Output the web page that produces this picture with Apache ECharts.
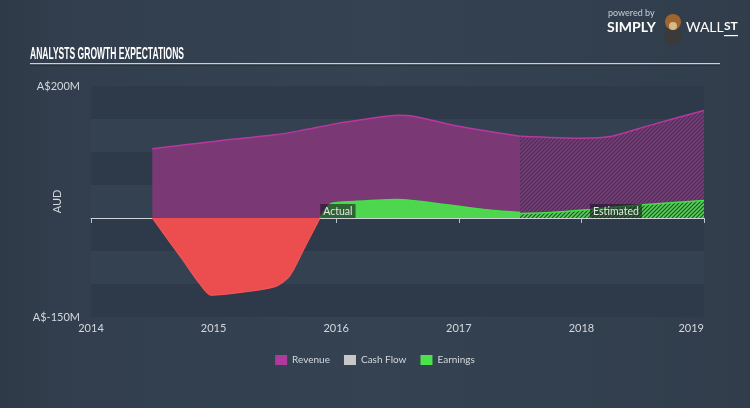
<!DOCTYPE html>
<html><head><meta charset="utf-8">
<script src="https://cdn.jsdelivr.net/npm/echarts@6/dist/echarts.min.js"></script>
<style>html,body{margin:0;padding:0;background:#323e4d}#c{width:750px;height:408px}</style>
</head><body><div id="c"></div>
<script>
// ---- data (years as decimals, values in A$ millions) ----
const xTicks = [2014, 2015, 2016, 2017, 2018, 2019];
const yTickLabels = { '200': 'A$200M', '-150': 'A$-150M' };
const legendNames = ['Revenue', 'Cash Flow', 'Earnings'];
const revenueActual = [[2014.5,105],[2015.0,116],[2015.5,126],[2015.7,132],[2016.0,143],[2016.25,150],[2016.5,155.5],[2016.65,153.5],[2017.0,139],[2017.5,124]];
const revenueEstimated = [[2017.5,124],[2018.0,121],[2018.25,124],[2018.55,140],[2019.0,163]];
const earningsNegative = [[2014.5,0],[2014.75,-64],[2014.88,-98],[2014.98,-117],[2015.25,-112],[2015.5,-104],[2015.62,-88],[2015.75,-42],[2015.868,0]];
const earningsActual = [[2015.868,0],[2015.96,22],[2016.15,25],[2016.5,28],[2016.9,20],[2017.2,13],[2017.5,8.3]];
const earningsEstimated = [[2017.5,7],[2017.75,8.5],[2018.07,13],[2018.5,20],[2019.0,26.5]];
const cashFlow = [];
const marks = [{ name: 'Actual', at: [2015.87, 0] }, { name: 'Estimated', at: [2018.07, 0] }];

function hatch(fg, bg, w) {
  const c = document.createElement('canvas');
  c.width = 4; c.height = 4;
  const ctx = c.getContext('2d');
  ctx.fillStyle = bg; ctx.fillRect(0, 0, 4, 4);
  ctx.strokeStyle = fg; ctx.lineWidth = w;
  ctx.beginPath();
  ctx.moveTo(-1, 5); ctx.lineTo(5, -1);
  ctx.moveTo(-1, 1); ctx.lineTo(1, -1);
  ctx.moveTo(3, 5); ctx.lineTo(5, 3);
  ctx.stroke();
  return { image: c, repeat: 'repeat' };
}

const FONT = 'Lato, "Noto Sans", sans-serif';
const labelColor = '#d3d8de';
const TITLE_FONT = 'bold 17px "Liberation Sans", Arial, sans-serif';

// measure title to make it condensed
const mc = document.createElement('canvas').getContext('2d');
mc.font = TITLE_FONT;
const titleW = mc.measureText('ANALYSTS GROWTH EXPECTATIONS').width;
const titleScale = 154 / titleW;

const chart = echarts.init(document.getElementById('c'));
const lineBase = { type: 'line', symbol: 'none', smooth: 0.25, silent: true };

chart.setOption({
  backgroundColor: {
    type: 'linear', x: 0, y: 0, x2: 1, y2: 0,
    colorStops: [{ offset: 0, color: '#2f3a47' }, { offset: 0.08, color: '#323e4d' }, { offset: 0.5, color: '#344252' }, { offset: 1, color: '#313d4b' }]
  },
  animation: false,
  textStyle: { fontFamily: FONT },
  grid: { left: 91, right: 46, top: 86, bottom: 91 },
  legend: {
    data: [
      { name: legendNames[0], itemStyle: { color: '#b0399e' } },
      { name: legendNames[1], itemStyle: { color: '#c8c8c8' } },
      { name: legendNames[2], itemStyle: { color: '#4be24b' } }
    ],
    icon: 'rect', itemWidth: 12, itemHeight: 10, itemGap: 14,
    left: 'center', top: 350,
    textStyle: { color: labelColor, fontSize: 10, fontFamily: FONT },
    selectedMode: false
  },
  xAxis: {
    type: 'value', min: xTicks[0], max: xTicks[xTicks.length - 1], interval: 1,
    splitLine: { show: false },
    axisLine: { lineStyle: { color: '#b8c1cb', width: 1 } },
    axisTick: { show: true, length: 5, lineStyle: { color: '#b8c1cb' } },
    axisLabel: { color: labelColor, fontSize: 11, margin: 6, formatter: v => String(Math.round(v)), alignMaxLabel: 'right' }
  },
  yAxis: {
    type: 'value', min: -150, max: 200, interval: 50,
    name: 'AUD', nameLocation: 'middle', nameGap: 28, nameMoveOverlap: false,
    nameTextStyle: { color: labelColor, fontSize: 11 },
    axisLine: { show: false }, axisTick: { show: false }, splitLine: { show: false },
    splitArea: { show: true, areaStyle: { color: ['#2e3a49', '#334150'] } },
    axisLabel: { color: labelColor, fontSize: 11, margin: 11, formatter: v => yTickLabels[String(v)] || '' }
  },
  series: [
    Object.assign({}, lineBase, {
      name: 'Revenue', data: revenueActual, z: 2,
      lineStyle: { color: '#b8389f', width: 1.5 },
      areaStyle: { color: '#7a3975', opacity: 1 },
      markLine: {
        silent: true, symbol: 'none', label: { show: false },
        lineStyle: { color: '#cdd3d9', type: 'solid', width: 1 },
        data: [{ yAxis: 0 }], z: 1
      }
    }),
    Object.assign({}, lineBase, {
      name: 'Revenue', data: revenueEstimated, z: 2,
      lineStyle: { color: '#b8389f', width: 1.5 },
      areaStyle: { color: hatch('#7d3a78', '#3a3850', 1.7), opacity: 1 }
    }),
    Object.assign({}, lineBase, { name: 'Cash Flow', data: cashFlow, lineStyle: { color: '#c8c8c8' } }),
    Object.assign({}, lineBase, {
      name: 'Earnings', data: earningsNegative, z: 3,
      lineStyle: { color: '#f25458', width: 1.2 },
      areaStyle: { color: '#ec4e50', opacity: 1 }
    }),
    Object.assign({}, lineBase, {
      name: 'Earnings', data: earningsActual, z: 3,
      lineStyle: { color: '#45e045', width: 1.5 },
      areaStyle: { color: '#4fd64f', opacity: 1 }
    }),
    Object.assign({}, lineBase, {
      name: 'Earnings', data: earningsEstimated, z: 3,
      lineStyle: { color: '#45e045', width: 1.5 },
      areaStyle: { color: hatch('#4fd64f', '#33423f', 1.7), opacity: 1 },
      markPoint: {
        silent: true, symbol: 'rect', symbolSize: 0.01,
        itemStyle: { color: 'rgba(0,0,0,0)' },
        label: {
          show: true, position: [0, 0], align: 'left', verticalAlign: 'bottom',
          color: '#e6e6e6', fontSize: 10.5, fontFamily: FONT,
          backgroundColor: 'rgba(25,22,35,0.6)', padding: [2, 3, 1, 3],
          formatter: p => p.name
        },
        data: marks.map(m => ({ name: m.name, coord: m.at }))
      }
    })
  ],
  graphic: [
    {
      type: 'text', x: 30, y: 46, scaleX: titleScale, z: 10,
      style: { text: 'ANALYSTS GROWTH EXPECTATIONS', fill: '#ffffff', font: TITLE_FONT }
    },
    { type: 'rect', shape: { x: 30, y: 63, width: 690, height: 1.5 }, style: { fill: '#c8d0d8' } },
    { type: 'rect', shape: { x: 30, y: 64.5, width: 690, height: 1 }, style: { fill: '#1f2731' } },
    { type: 'text', x: 608, y: 9, style: { text: 'powered by', fill: '#c9cfd6', font: '9px ' + FONT } },
    { type: 'text', x: 607, y: 20, style: { text: 'SIMPLY', fill: '#ffffff', font: 'bold 14px ' + FONT } },
    { type: 'circle', shape: { cx: 673, cy: 36, r: 9 }, style: { fill: '#3a3a3a' } },
    { type: 'circle', shape: { cx: 673, cy: 22, r: 8 }, style: { fill: '#a0652c' } },
    { type: 'circle', shape: { cx: 673, cy: 26, r: 4 }, style: { fill: '#d8b98a' } },
    { type: 'text', x: 686, y: 20, style: { text: 'WALL', fill: '#ffffff', font: '14px ' + FONT } },
    { type: 'text', x: 724, y: 20, style: { text: 'ST', fill: '#ffffff', font: 'bold 12px ' + FONT } },
    { type: 'rect', shape: { x: 724, y: 35, width: 14, height: 1.2 }, style: { fill: '#ffffff' } }
  ]
});
</script></body></html>
